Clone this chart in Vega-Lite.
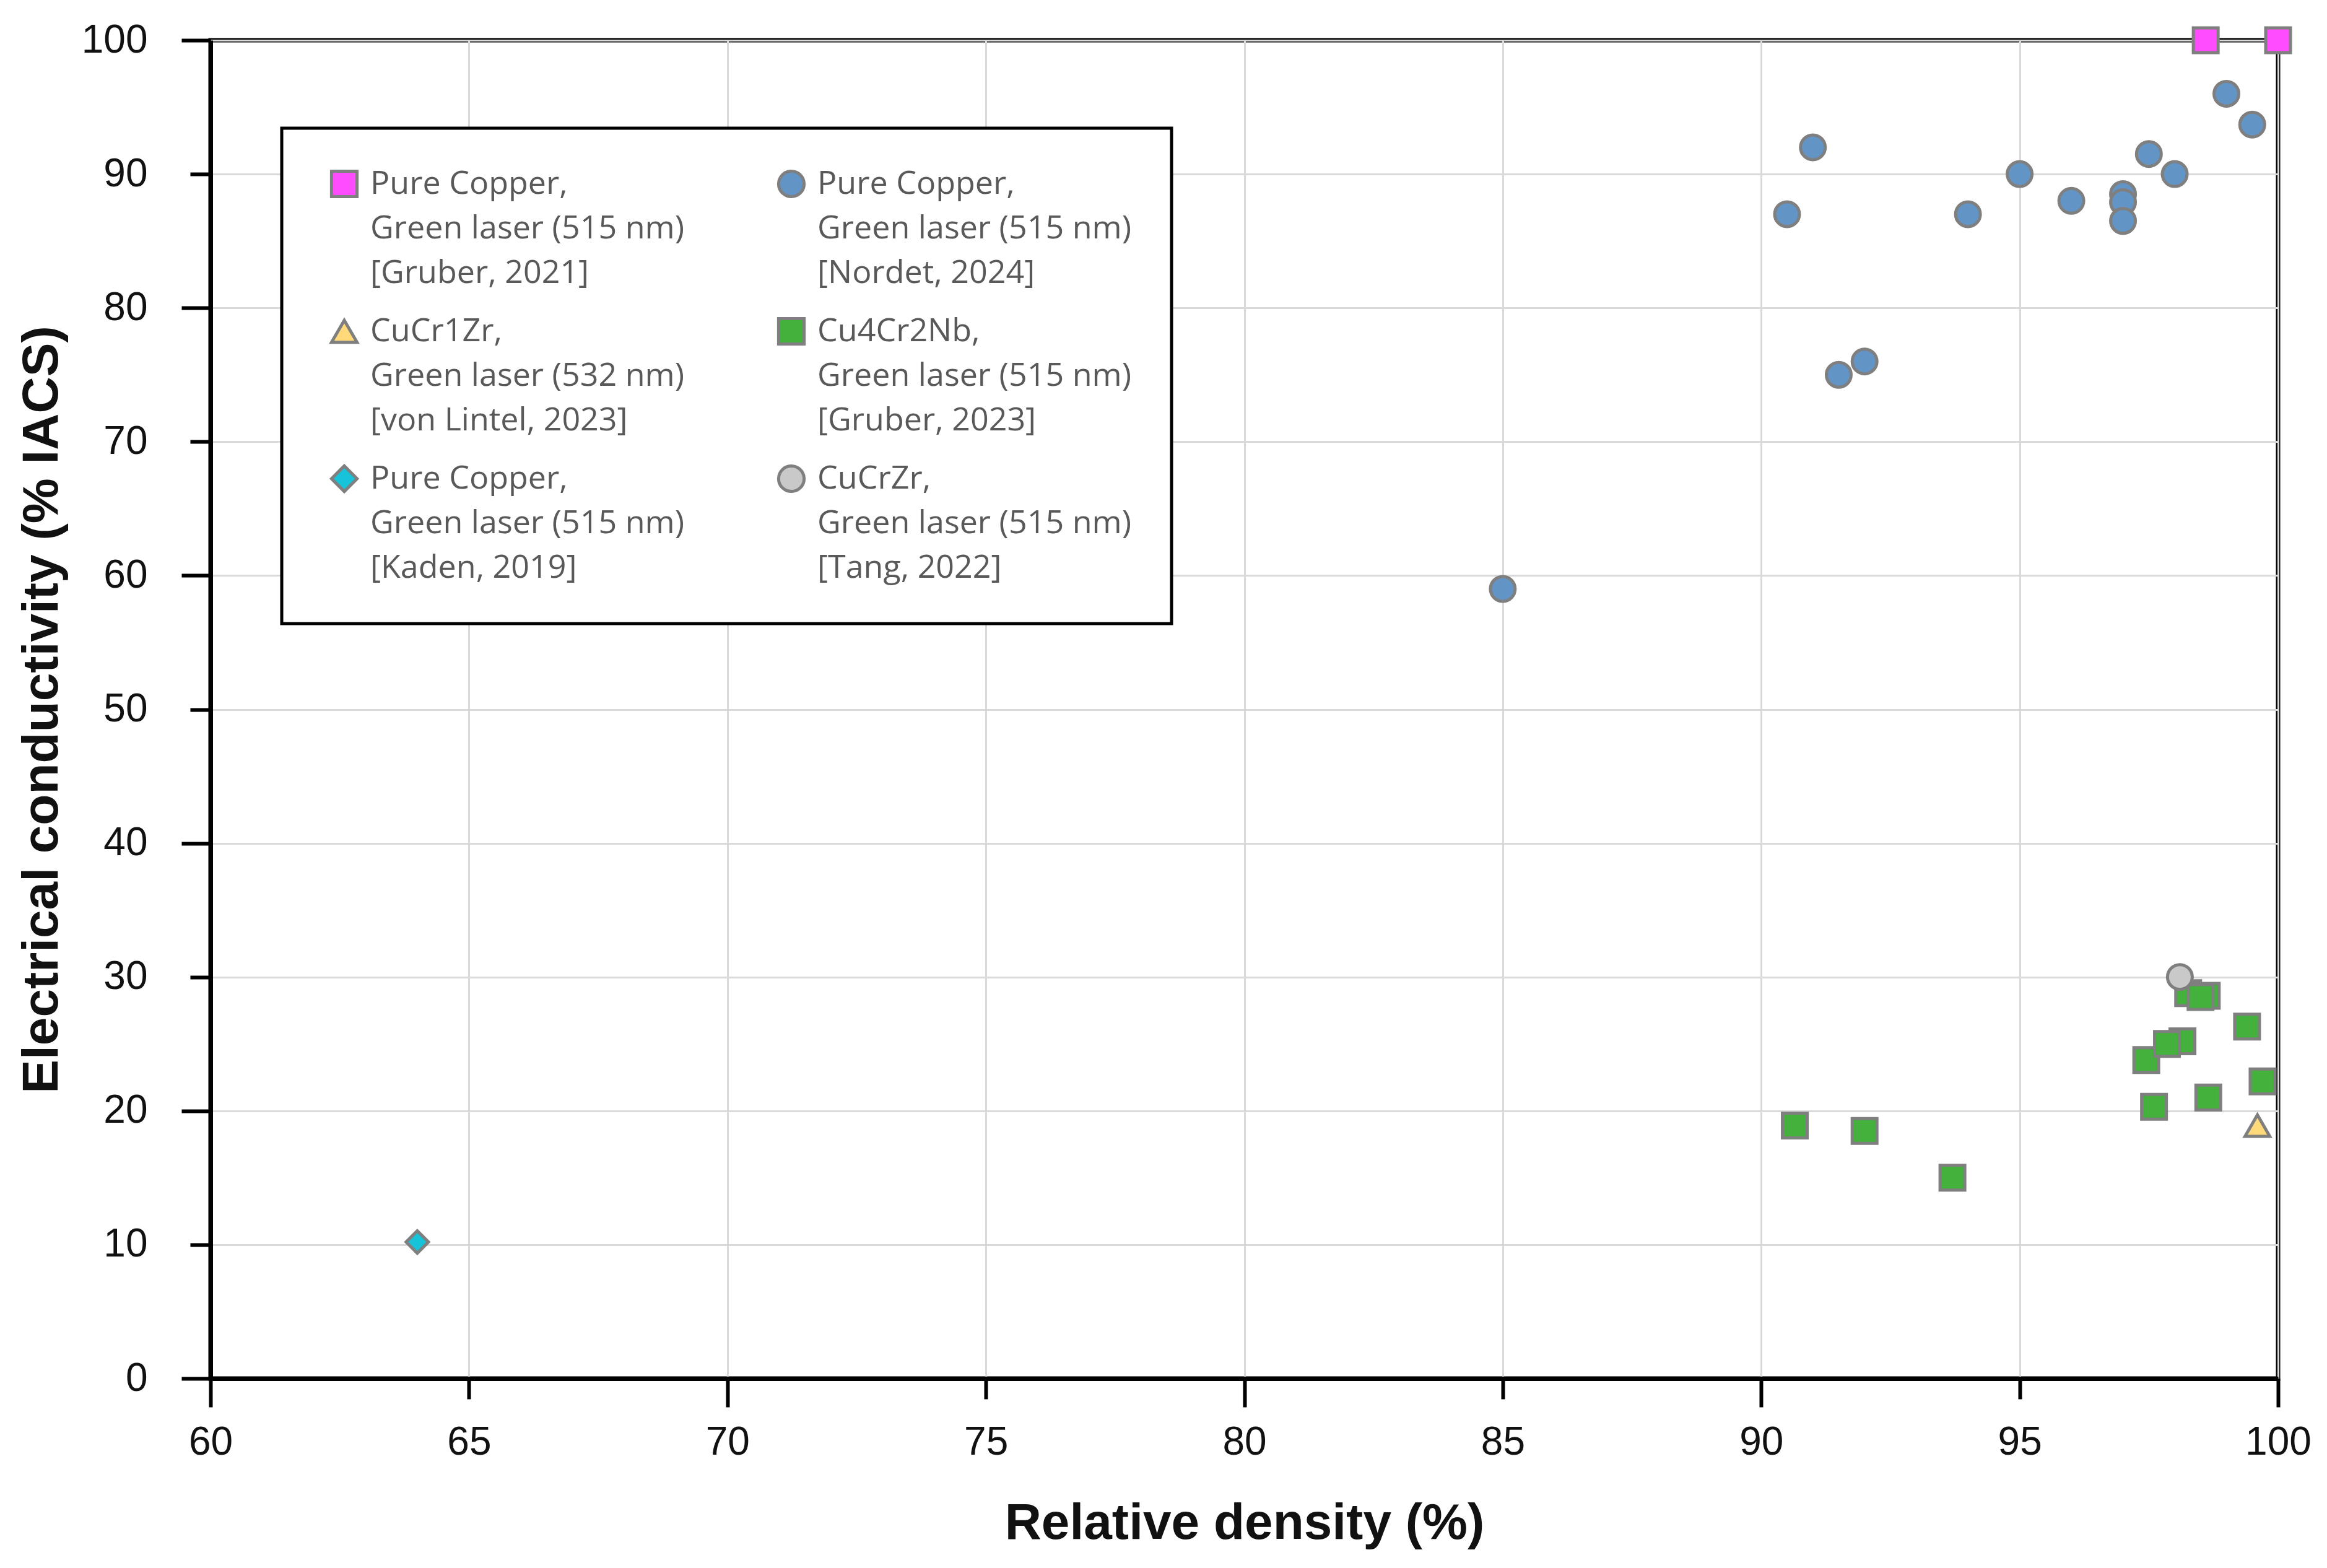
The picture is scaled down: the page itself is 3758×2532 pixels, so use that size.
{
  "$schema": "https://vega.github.io/schema/vega-lite/v6.json",
  "width": 3339,
  "height": 2161,
  "autosize": {"type": "none"},
  "padding": {"left": 340, "top": 65, "right": 79, "bottom": 306},
  "background": "white",
  "config": {
    "view": {"stroke": "black", "strokeWidth": 7}
  },
  "data": {
    "values": [
      {"series": "Cu4Cr2Nb,|Green laser (515 nm)|[Gruber, 2023]", "density": 90.65, "conductivity": 18.9},
      {"series": "Cu4Cr2Nb,|Green laser (515 nm)|[Gruber, 2023]", "density": 92.0, "conductivity": 18.5},
      {"series": "Cu4Cr2Nb,|Green laser (515 nm)|[Gruber, 2023]", "density": 93.7, "conductivity": 15.0},
      {"series": "Cu4Cr2Nb,|Green laser (515 nm)|[Gruber, 2023]", "density": 97.45, "conductivity": 23.8},
      {"series": "Cu4Cr2Nb,|Green laser (515 nm)|[Gruber, 2023]", "density": 97.6, "conductivity": 20.3},
      {"series": "Cu4Cr2Nb,|Green laser (515 nm)|[Gruber, 2023]", "density": 98.15, "conductivity": 25.2},
      {"series": "Cu4Cr2Nb,|Green laser (515 nm)|[Gruber, 2023]", "density": 97.85, "conductivity": 25.0},
      {"series": "Cu4Cr2Nb,|Green laser (515 nm)|[Gruber, 2023]", "density": 98.26, "conductivity": 28.8},
      {"series": "Cu4Cr2Nb,|Green laser (515 nm)|[Gruber, 2023]", "density": 98.62, "conductivity": 28.6},
      {"series": "Cu4Cr2Nb,|Green laser (515 nm)|[Gruber, 2023]", "density": 98.5, "conductivity": 28.5},
      {"series": "Cu4Cr2Nb,|Green laser (515 nm)|[Gruber, 2023]", "density": 98.65, "conductivity": 21.0},
      {"series": "Cu4Cr2Nb,|Green laser (515 nm)|[Gruber, 2023]", "density": 99.4, "conductivity": 26.3},
      {"series": "Cu4Cr2Nb,|Green laser (515 nm)|[Gruber, 2023]", "density": 99.7, "conductivity": 22.2},
      {"series": "CuCr1Zr,|Green laser (532 nm)|[von Lintel, 2023]", "density": 99.6, "conductivity": 18.9},
      {"series": "Pure Copper,|Green laser (515 nm)|[Kaden, 2019]", "density": 64.0, "conductivity": 10.2},
      {"series": "Pure Copper,|Green laser (515 nm)|[Nordet, 2024]", "density": 85.0, "conductivity": 59.0},
      {"series": "Pure Copper,|Green laser (515 nm)|[Nordet, 2024]", "density": 90.5, "conductivity": 87.0},
      {"series": "Pure Copper,|Green laser (515 nm)|[Nordet, 2024]", "density": 91.0, "conductivity": 92.0},
      {"series": "Pure Copper,|Green laser (515 nm)|[Nordet, 2024]", "density": 91.5, "conductivity": 75.0},
      {"series": "Pure Copper,|Green laser (515 nm)|[Nordet, 2024]", "density": 92.0, "conductivity": 76.0},
      {"series": "Pure Copper,|Green laser (515 nm)|[Nordet, 2024]", "density": 94.0, "conductivity": 87.0},
      {"series": "Pure Copper,|Green laser (515 nm)|[Nordet, 2024]", "density": 95.0, "conductivity": 90.0},
      {"series": "Pure Copper,|Green laser (515 nm)|[Nordet, 2024]", "density": 96.0, "conductivity": 88.0},
      {"series": "Pure Copper,|Green laser (515 nm)|[Nordet, 2024]", "density": 97.0, "conductivity": 88.5},
      {"series": "Pure Copper,|Green laser (515 nm)|[Nordet, 2024]", "density": 97.0, "conductivity": 87.9},
      {"series": "Pure Copper,|Green laser (515 nm)|[Nordet, 2024]", "density": 97.0, "conductivity": 86.5},
      {"series": "Pure Copper,|Green laser (515 nm)|[Nordet, 2024]", "density": 97.5, "conductivity": 91.5},
      {"series": "Pure Copper,|Green laser (515 nm)|[Nordet, 2024]", "density": 98.0, "conductivity": 90.0},
      {"series": "Pure Copper,|Green laser (515 nm)|[Nordet, 2024]", "density": 99.0, "conductivity": 96.0},
      {"series": "Pure Copper,|Green laser (515 nm)|[Nordet, 2024]", "density": 99.5, "conductivity": 93.7},
      {"series": "Pure Copper,|Green laser (515 nm)|[Gruber, 2021]", "density": 98.6, "conductivity": 100.0},
      {"series": "Pure Copper,|Green laser (515 nm)|[Gruber, 2021]", "density": 100.0, "conductivity": 100.0},
      {"series": "CuCrZr,|Green laser (515 nm)|[Tang, 2022]", "density": 98.1, "conductivity": 30.0}
    ]
  },
  "mark": {"type": "point", "filled": true, "opacity": 1, "stroke": "#7F7F7F", "strokeWidth": 5, "strokeOpacity": 1},
  "encoding": {
    "x": {
      "field": "density", "type": "quantitative",
      "scale": {"domain": [60, 100], "nice": false, "zero": false},
      "axis": {
        "title": "Relative density (%)",
        "values": [60, 65, 70, 75, 80, 85, 90, 95, 100],
        "grid": true, "gridColor": "#D9D9D9", "gridWidth": 3,
        "domainColor": "black", "domainWidth": 7,
        "tickColor": "black", "tickWidth": 6,
        "tickSize": {"condition": {"test": "datum.value % 10 === 0", "value": 46}, "value": 33},
        "labelPadding": {"condition": {"test": "datum.value % 10 === 0", "value": 25}, "value": 38},
        "labelFont": "Liberation Sans", "labelFontSize": 64, "labelColor": "#111111",
        "labelFlush": false, "labelOverlap": false,
        "titleFont": "Liberation Sans", "titleFontSize": 82, "titleFontWeight": "bold", "titleColor": "#111111",
        "titlePadding": 58,
        "zindex": 0
      }
    },
    "y": {
      "field": "conductivity", "type": "quantitative",
      "scale": {"domain": [0, 100], "nice": false},
      "axis": {
        "title": "Electrical conductivity (% IACS)",
        "values": [0, 10, 20, 30, 40, 50, 60, 70, 80, 90, 100],
        "grid": true, "gridColor": "#D9D9D9", "gridWidth": 3,
        "domainColor": "black", "domainWidth": 7,
        "tickColor": "black", "tickWidth": 6,
        "tickSize": {"condition": {"test": "datum.value % 20 === 0", "value": 47}, "value": 33},
        "labelPadding": {"condition": {"test": "datum.value % 20 === 0", "value": 55}, "value": 69},
        "labelFont": "Liberation Sans", "labelFontSize": 64, "labelColor": "#111111",
        "labelFlush": false, "labelOverlap": false,
        "titleFont": "Liberation Sans", "titleFontSize": 82, "titleFontWeight": "bold", "titleColor": "#111111",
        "titlePadding": 31,
        "zindex": 0
      }
    },
    "color": {
      "field": "series", "type": "nominal",
      "scale": {
        "domain": [
          "Pure Copper,|Green laser (515 nm)|[Gruber, 2021]",
          "CuCr1Zr,|Green laser (532 nm)|[von Lintel, 2023]",
          "Pure Copper,|Green laser (515 nm)|[Kaden, 2019]",
          "Pure Copper,|Green laser (515 nm)|[Nordet, 2024]",
          "Cu4Cr2Nb,|Green laser (515 nm)|[Gruber, 2023]",
          "CuCrZr,|Green laser (515 nm)|[Tang, 2022]"
        ],
        "range": ["#FF4CFF", "#FFD97A", "#17C3D8", "#6394C6", "#43B13B", "#C9C9C9"]
      },
      "legend": {
        "title": null,
        "orient": "none", "legendX": 115, "legendY": 142,
        "columns": 2, "columnPadding": 135, "rowPadding": 37,
        "padding": 64, "symbolOffset": 11,
        "strokeColor": "black", "fillColor": "white",
        "labelExpr": "split(datum.label, '|')",
        "labelFont": "Open Sans", "labelFontSize": 52, "labelColor": "#595959", "labelLimit": 2000,
        "labelOffset": 16, "labelBaseline": "middle",
        "symbolSize": 1700, "symbolStrokeColor": "#7F7F7F", "symbolStrokeWidth": 5, "symbolOpacity": 1,
        "encode": {
          "labels": {"update": {"lineHeight": {"value": 72}}},
          "legend": {"update": {"strokeWidth": {"value": 5}}}
        }
      }
    },
    "shape": {
      "field": "series", "type": "nominal",
      "scale": {
        "domain": [
          "Pure Copper,|Green laser (515 nm)|[Gruber, 2021]",
          "CuCr1Zr,|Green laser (532 nm)|[von Lintel, 2023]",
          "Pure Copper,|Green laser (515 nm)|[Kaden, 2019]",
          "Pure Copper,|Green laser (515 nm)|[Nordet, 2024]",
          "Cu4Cr2Nb,|Green laser (515 nm)|[Gruber, 2023]",
          "CuCrZr,|Green laser (515 nm)|[Tang, 2022]"
        ],
        "range": ["square", "triangle-up", "diamond", "circle", "square", "circle"]
      }
    },
    "size": {
      "condition": {"test": "datum.series === 'Pure Copper,|Green laser (515 nm)|[Kaden, 2019]'", "value": 1300},
      "value": 1600
    }
  }
}
